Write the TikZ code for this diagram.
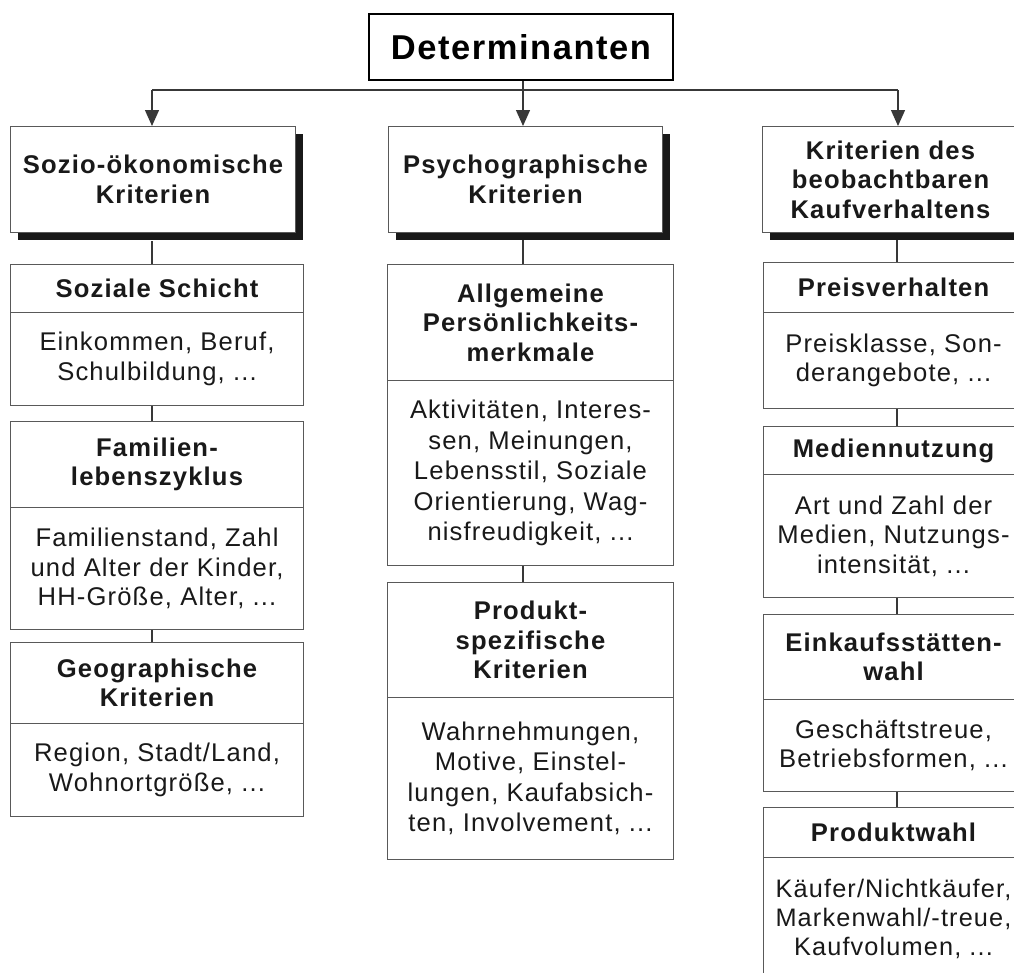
\documentclass[tikz,border=0pt]{standalone}
\usepackage{fontspec}
\setmainfont[LetterSpace=4.5]{Liberation Sans}
\usetikzlibrary{arrows.meta,shadows}
\tikzset{
  cell/.style={draw=black!65, line width=1pt, fill=white, inner sep=0pt,
    anchor=north west, align=center, text=black!90},
  hd/.style={cell, font=\bfseries\fontsize{25.6}{29.5}\selectfont},
  bd/.style={cell, font=\fontsize{25.6}{29.5}\selectfont},
  topbox/.style={hd, drop shadow={shadow xshift=7pt, shadow yshift=-7pt, fill=black!90, opacity=1}},
  conn/.style={draw=black!78, line width=1.3pt},
  arr/.style={conn, -{Triangle[length=16pt,width=14pt]}},
}
\begin{document}
\begin{tikzpicture}[x=1pt,y=-1pt]
\useasboundingbox (0,0) rectangle (1014,972);
\clip (0,0) rectangle (1014,972);
\fill[white] (0,0) rectangle (1014,972);

% head
\node[draw=black, line width=2pt, fill=white, inner sep=0pt, anchor=north west,
  minimum width=304pt, minimum height=66pt, text=black,
  font=\bfseries\fontsize{34.5}{38}\selectfont] (det) at (368,13) {Determinanten};

% column tops
\node[topbox, minimum width=285pt, minimum height=106pt] (ta) at (10,126) {Sozio-ökonomische\\Kriterien};
\node[topbox, minimum width=274pt, minimum height=106pt] (tb) at (388,126) {Psychographische\\Kriterien};
\node[topbox, minimum width=256pt, minimum height=106pt] (tc) at (762,126) {Kriterien des\\beobachtbaren\\Kaufverhaltens};

% column 1
\node[hd, minimum width=293pt, minimum height=48pt] (a1h) at (10,264) {Soziale Schicht};
\node[bd, minimum width=293pt, minimum height=93pt] (a1b) at (10,312) {Einkommen, Beruf,\\Schulbildung, ...};
\node[hd, minimum width=293pt, minimum height=86pt] (a2h) at (10,421) {Familien-\\lebenszyklus};
\node[bd, minimum width=293pt, minimum height=122pt] (a2b) at (10,507) {Familienstand, Zahl\\und Alter der Kinder,\\HH-Größe, Alter, ...};
\node[hd, minimum width=293pt, minimum height=81pt] (a3h) at (10,642) {Geographische\\Kriterien};
\node[bd, minimum width=293pt, minimum height=93pt] (a3b) at (10,723) {Region, Stadt/Land,\\Wohnortgröße, ...};

% column 2
\node[hd, minimum width=286pt, minimum height=116pt] (b1h) at (387,264) {Allgemeine\\Persönlichkeits-\\merkmale};
\node[bd, minimum width=286pt, minimum height=185pt, font=\fontsize{25.6}{30.5}\selectfont] (b1b) at (387,380) {Aktivitäten, Interes-\\sen, Meinungen,\\Lebensstil, Soziale\\Orientierung, Wag-\\nisfreudigkeit, ...};
\node[hd, minimum width=286pt, minimum height=115pt] (b2h) at (387,582) {Produkt-\\spezifische\\Kriterien};
\node[bd, minimum width=286pt, minimum height=162pt, font=\fontsize{25.6}{30.5}\selectfont] (b2b) at (387,697) {Wahrnehmungen,\\Motive, Einstel-\\lungen, Kaufabsich-\\ten, Involvement, ...};

% column 3 (right edges run past the page edge)
\node[hd, minimum width=260pt, minimum height=50pt] (c1h) at (763,262) {Preisverhalten};
\node[bd, minimum width=260pt, minimum height=96pt] (c1b) at (763,312) {Preisklasse, Son-\\derangebote, ...};
\node[hd, minimum width=260pt, minimum height=48pt] (c2h) at (763,426) {Mediennutzung};
\node[bd, minimum width=260pt, minimum height=123pt] (c2b) at (763,474) {Art und Zahl der\\Medien, Nutzungs-\\intensität, ...};
\node[hd, minimum width=260pt, minimum height=85pt] (c3h) at (763,614) {Einkaufsstätten-\\wahl};
\node[bd, minimum width=260pt, minimum height=92pt] (c3b) at (763,699) {Geschäftstreue,\\Betriebsformen, ...};
\node[hd, minimum width=260pt, minimum height=50pt] (c4h) at (763,807) {Produktwahl};
\node[bd, minimum width=260pt, minimum height=122pt, font=\fontsize{25.3}{29}\selectfont] (c4b) at (763,857) {Käufer/Nichtkäufer,\\Markenwahl/-treue,\\Kaufvolumen, ...};

% top connectors
\coordinate (jl) at (152,90);
\coordinate (jm) at (523,90);
\coordinate (jr) at (898,90);
\draw[conn] (jl) -- (jr);
\draw[conn] (det.south -| jm) -- (jm);
\draw[arr] (jl) -- (jl |- ta.north);
\draw[arr] (jm) -- (jm |- tb.north);
\draw[arr] (jr) -- (jr |- tc.north);

% column connectors
\coordinate (xa) at (152,0);
\coordinate (xb) at (523,0);
\coordinate (xc) at (897,0);
\begin{scope}[conn]
\draw ([yshift=-8pt]ta.south -| xa) -- (a1h.north -| xa);
\draw (a1b.south -| xa) -- (a2h.north -| xa);
\draw (a2b.south -| xa) -- (a3h.north -| xa);
\draw ([yshift=-7pt]tb.south -| xb) -- (b1h.north -| xb);
\draw (b1b.south -| xb) -- (b2h.north -| xb);
\draw ([yshift=-7pt]tc.south -| xc) -- (c1h.north -| xc);
\draw (c1b.south -| xc) -- (c2h.north -| xc);
\draw (c2b.south -| xc) -- (c3h.north -| xc);
\draw (c3b.south -| xc) -- (c4h.north -| xc);
\end{scope}
\end{tikzpicture}
\end{document}
